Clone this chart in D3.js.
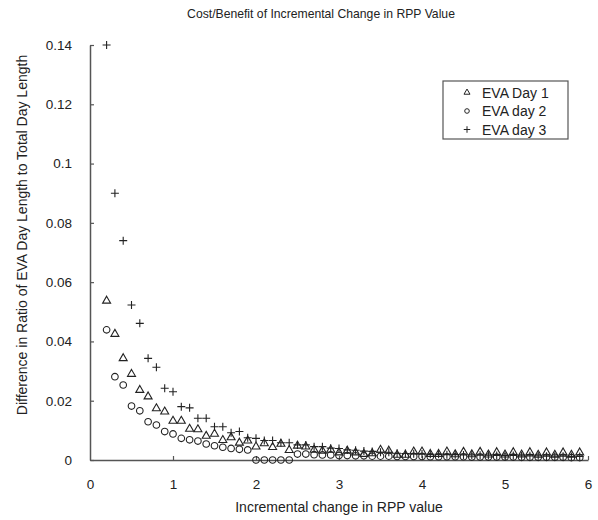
<!DOCTYPE html>
<html>
<head>
<meta charset="utf-8">
<script src="https://cdn.jsdelivr.net/npm/d3@7"></script>
<style>
  body { margin: 0; background: #fff; }
  text { font-family: "Liberation Sans", Arial, sans-serif; fill: #222; }
</style>
</head>
<body>
<svg id="chart"></svg>
<script>
// x positions: incremental change in RPP value, 0.2 .. 5.9
var rppSteps = [0.2,0.3,0.4,0.5,0.6,0.7,0.8,0.9,1.0,1.1,1.2,1.3,1.4,1.5,1.6,1.7,1.8,1.9,2.0,
  2.1,2.2,2.3,2.4,2.5,2.6,2.7,2.8,2.9,3.0,3.1,3.2,3.3,3.4,3.5,3.6,3.7,3.8,3.9,4.0,
  4.1,4.2,4.3,4.4,4.5,4.6,4.7,4.8,4.9,5.0,5.1,5.2,5.3,5.4,5.5,5.6,5.7,5.8,5.9];

var evaDay1 = [0.0537,0.0425,0.0343,0.0290,0.0236,0.0214,0.0174,0.0163,0.0132,0.0132,0.0105,0.0103,0.0081,0.0088,0.0067,0.0076,0.0058,0.0065,0.0045,
  0.0056,0.0043,0.0054,0.0033,0.0048,0.0045,0.0034,0.0031,0.0034,0.0025,0.0031,0.0025,0.0020,0.0022,0.0034,0.0031,0.0017,0.0017,0.0028,0.0028,
  0.0020,0.0020,0.0028,0.0019,0.0027,0.0019,0.0027,0.0018,0.0026,0.0018,0.0026,0.0018,0.0026,0.0017,0.0025,0.0017,0.0025,0.0017,0.0025];

var evaDay2 = [0.0439,0.0281,0.0253,0.0182,0.0166,0.0129,0.0118,0.0096,0.0088,0.0073,0.0068,0.0064,0.0054,0.0048,0.0043,0.0039,0.0036,0.0034,0,
  0,0,0,0,0.0020,0.0020,0.0018,0.0017,0.0017,0.0015,0.0015,0.0014,0.0014,0.0013,0.0013,0.0013,0.0012,0.0012,0.0012,0.0012,
  0.0011,0.0011,0.0011,0.0011,0.0011,0.0010,0.0010,0.0010,0.0010,0.0010,0.0010,0.0009,0.0009,0.0009,0.0009,0.0009,0.0009,0.0008,0.0008];

var evaDay3 = [0.140,0.090,0.074,0.0523,0.0461,0.0343,0.0313,0.0242,0.0230,0.0180,0.0176,0.0141,0.0141,0.0112,0.0112,0.0092,0.0096,0.0075,0.0073,
  0.0066,0.0066,0.0058,0.0058,0.0051,0.0051,0.0045,0.0045,0.0040,0.0039,0.0034,0.0033,0.0030,0.0029,0.0026,0.0026,0.0023,0.0022,0.0021,0.0020,
  0.0019,0.0019,0.0018,0.0018,0.0017,0.0017,0.0016,0.0016,0.0015,0.0015,0.0015,0.0014,0.0014,0.0014,0.0013,0.0013,0.0013,0.0012,0.0012];

var seriesNames = ["EVA Day 1", "EVA day 2", "EVA day 3"];
var xTicks = [0, 1, 2, 3, 4, 5, 6];
var yTicks = [0, 0.02, 0.04, 0.06, 0.08, 0.1, 0.12, 0.14];

var W = 598, H = 520;
var margin = { top: 45, right: 10, bottom: 60, left: 90 };
var width = W - margin.left - margin.right,
    height = H - margin.top - margin.bottom;

var svg = d3.select("#chart").attr("width", W).attr("height", H);
var g = svg.append("g").attr("transform", "translate(" + margin.left + "," + margin.top + ")");

var x = d3.scaleLinear().domain([0, 6]).range([0, width]);
var y = d3.scaleLinear().domain([0, 0.14]).range([height, 0]);

// axes, ticks pointing inward
var yAxis = g.append("g")
  .call(d3.axisLeft(y).tickValues(yTicks).tickSize(-4).tickSizeOuter(0).tickPadding(18)
    .tickFormat(function (d) { return String(+d.toFixed(2)); }));
var xAxis = g.append("g").attr("transform", "translate(0," + height + ")")
  .call(d3.axisBottom(x).tickValues(xTicks).tickSize(-4).tickSizeOuter(0).tickPadding(19)
    .tickFormat(d3.format("d")));

[xAxis, yAxis].forEach(function (a) {
  a.select(".domain").attr("stroke", "#555").attr("stroke-width", 1.5);
  a.selectAll(".tick line").attr("stroke", "#555").attr("stroke-width", 1.2);
  a.selectAll(".tick text").style("font-size", "13.5px").attr("fill", "#222");
});
xAxis.selectAll(".tick").filter(function (d) { return d === 0; }).select("line").remove();

// marker shapes
function markerPath(kind, s) {
  if (kind === 0) {
    var h = s * Math.sqrt(3) / 2;
    return "M0," + (-h * 2 / 3) + "L" + (s / 2) + "," + (h / 3) + "L" + (-s / 2) + "," + (h / 3) + "Z";
  }
  if (kind === 1) {
    var r = s / 2;
    return "M" + r + ",0A" + r + "," + r + " 0 1,1 " + (-r) + ",0A" + r + "," + r + " 0 1,1 " + r + ",0Z";
  }
  var a = s / 2;
  return "M" + (-a) + ",0H" + a + "M0," + (-a) + "V" + a;
}

var allSeries = [evaDay1, evaDay2, evaDay3];
var sizes = [8, 6.6, 8];

allSeries.forEach(function (vals, k) {
  g.append("g").selectAll("path")
    .data(vals)
    .enter().append("path")
    .attr("transform", function (d, i) { return "translate(" + x(rppSteps[i]) + "," + y(d) + ")"; })
    .attr("d", markerPath(k, sizes[k]))
    .attr("fill", "none")
    .attr("stroke", "#222")
    .attr("stroke-width", 1.1);
});

// legend
var legend = svg.append("g").attr("transform", "translate(443,81)");
legend.append("rect")
  .attr("width", 125).attr("height", 58)
  .attr("fill", "#fff").attr("stroke", "#555").attr("stroke-width", 1.2);
var legSizes = [6, 4.6, 6.5];
seriesNames.forEach(function (name, k) {
  var row = legend.append("g").attr("transform", "translate(0," + (11.5 + k * 18.5) + ")");
  row.append("path")
    .attr("transform", "translate(24,0)")
    .attr("d", markerPath(k, legSizes[k]))
    .attr("fill", "none").attr("stroke", "#222").attr("stroke-width", 1);
  row.append("text")
    .attr("x", 39).attr("dy", "0.36em")
    .style("font-size", "14px")
    .text(name);
});

// titles
svg.append("text")
  .attr("x", 321).attr("y", 18)
  .attr("text-anchor", "middle")
  .style("font-size", "12.2px")
  .text("Cost/Benefit of Incremental Change in RPP Value");

svg.append("text")
  .attr("x", margin.left + width / 2).attr("y", 512)
  .attr("text-anchor", "middle")
  .style("font-size", "14px")
  .text("Incremental change in RPP value");

svg.append("text")
  .attr("transform", "translate(22,235) rotate(-90)")
  .attr("dy", "0.36em")
  .attr("text-anchor", "middle")
  .style("font-size", "14px")
  .text("Difference in Ratio of EVA Day Length to Total Day Length");
</script>
</body>
</html>
